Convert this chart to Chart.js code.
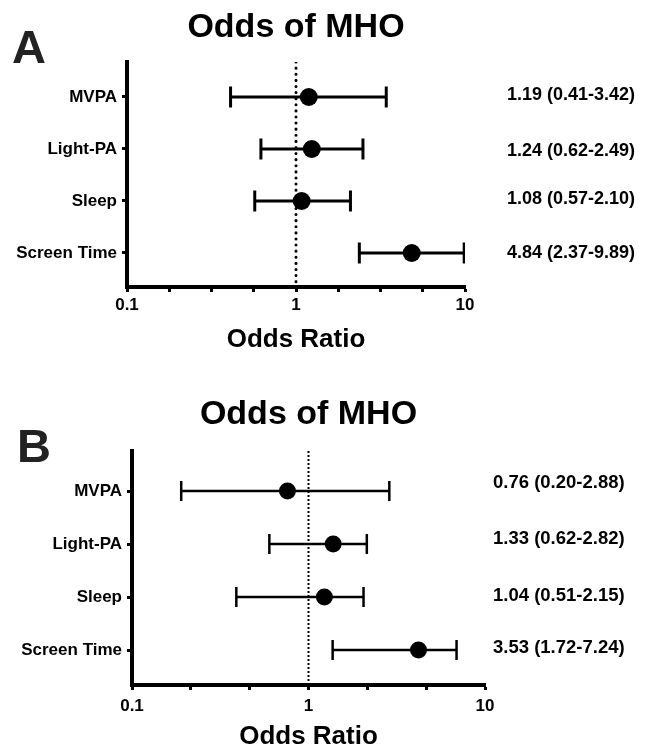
<!DOCTYPE html>
<html>
<head>
<meta charset="utf-8">
<script src="https://cdn.jsdelivr.net/npm/chart.js@4.4.0/dist/chart.umd.min.js"></script>
<style>
  html, body { margin: 0; padding: 0; background: #fff; overflow: hidden; }
  #wrapA { position: absolute; left: 0; top: 0; width: 646px; height: 370px; }
  #wrapB { position: absolute; left: 0; top: 370px; width: 646px; height: 400px; }
</style>
</head>
<body>
<div id="wrapA"><canvas id="chartA"></canvas></div>
<div id="wrapB"><canvas id="chartB"></canvas></div>
<script>
const categories = ['MVPA', 'Light-PA', 'Sleep', 'Screen Time'];

// Panel A
const oddsA = [1.19, 1.24, 1.08, 4.84];
const lowerA = [0.41, 0.62, 0.57, 2.37];
const upperA = [3.42, 2.49, 2.10, 9.89];
const textA = ['1.19 (0.41-3.42)', '1.24 (0.62-2.49)', '1.08 (0.57-2.10)', '4.84 (2.37-9.89)'];

// Panel B (marks, text as printed)
const oddsB = [0.76, 1.38, 1.23, 4.2];
const lowerB = [0.19, 0.60, 0.39, 1.37];
const upperB = [2.87, 2.14, 2.05, 6.9];
const textB = ['0.76 (0.20-2.88)', '1.33 (0.62-2.82)', '1.04 (0.51-2.15)', '3.53 (1.72-7.24)'];

const xTicksA = [0.1, 0.178, 0.316, 0.562, 1, 1.78, 3.16, 5.62, 10];
const xTicksB = [0.1, 0.215, 0.464, 1, 2.15, 4.64, 10];
const xLabels = [0.1, 1, 10];

const FONT = '"Liberation Sans", Arial, sans-serif';
Chart.defaults.font.family = FONT;
Chart.defaults.font.weight = 'bold';
Chart.defaults.color = '#000';

// titles, panel letter and the OR (CI) column
const panelText = {
  id: 'panelText',
  afterDraw(chart, args, o) {
    const {ctx, chartArea} = chart;
    const y = chart.scales.y;
    ctx.save();
    ctx.fillStyle = '#000';
    ctx.textBaseline = 'alphabetic';
    ctx.textAlign = 'center';
    ctx.font = 'bold 34px ' + FONT;
    ctx.fillText('Odds of MHO', (chartArea.left + chartArea.right) / 2, o.titleY);
    ctx.textAlign = 'left';
    ctx.fillStyle = '#222';
    ctx.font = 'bold 47px ' + FONT;
    ctx.fillText(o.letter, o.letterX, o.letterY);
    ctx.fillStyle = '#000';
    ctx.font = 'bold ' + o.valueSize + 'px ' + FONT;
    ctx.textBaseline = 'middle';
    o.values.forEach((t, i) => {
      ctx.fillText(t, o.valueX, y.getPixelForValue(i + 1) + o.valueShift[i]);
    });
    ctx.restore();
  }
};

function makeChart(id, p) {
  const datasets = [];
  datasets.push({
    type: 'scatter',
    data: p.odds.map((v, i) => ({x: v, y: i + 1})),
    pointRadius: p.dotR,
    backgroundColor: '#000',
    borderWidth: 0,
    order: 0
  });
  p.lower.forEach((lo, i) => {
    datasets.push({
      type: 'line',
      data: [{x: lo, y: i + 1}, {x: p.upper[i], y: i + 1}],
      borderColor: '#000',
      borderWidth: p.barW,
      pointStyle: 'line',
      pointRadius: p.capR,
      pointBorderColor: '#000',
      pointBorderWidth: p.barW,
      pointRotation: 90,
      order: 1
    });
  });
  // reference line at OR = 1
  datasets.push({
    type: 'line',
    data: [{x: 1, y: p.yMin}, {x: 1, y: p.yMax}],
    borderColor: '#000',
    borderWidth: p.refW,
    borderDash: p.refDash,
    borderCapStyle: p.refCap,
    pointRadius: 0,
    order: 2
  });

  return new Chart(document.getElementById(id), {
    type: 'scatter',
    data: {datasets},
    plugins: [panelText],
    options: {
      responsive: true,
      maintainAspectRatio: false,
      animation: false,
      events: [],
      layout: {padding: {top: p.top, right: p.right, left: 0, bottom: 0}},
      plugins: {
        legend: {display: false},
        tooltip: {enabled: false},
        panelText: p.text
      },
      scales: {
        x: {
          type: 'logarithmic',
          min: 0.1,
          max: 10,
          afterBuildTicks: s => { s.ticks = p.xTicks.map(v => ({value: v})); },
          afterFit: s => { s.height = p.xHeight; },
          ticks: {
            autoSkip: false,
            maxRotation: 0,
            padding: p.xPad,
            font: {size: 17, weight: 'bold', lineHeight: 1},
            callback: v => xLabels.includes(v) ? String(v) : ''
          },
          grid: {drawOnChartArea: false, tickLength: 5, tickWidth: 3, tickColor: '#000'},
          border: {display: true, width: 4, color: '#000'},
          title: {
            display: true,
            text: 'Odds Ratio',
            font: {size: 26, weight: 'bold', lineHeight: 1},
            padding: {top: 0, bottom: p.titlePad}
          }
        },
        y: {
          type: 'linear',
          reverse: true,
          min: p.yMin,
          max: p.yMax,
          afterBuildTicks: s => { s.ticks = categories.map((c, i) => ({value: i + 1})); },
          afterFit: s => { s.width = p.yWidth; },
          ticks: {
            autoSkip: false,
            padding: 5,
            font: {size: 17, weight: 'bold'},
            callback: v => categories[v - 1]
          },
          grid: {drawOnChartArea: false, tickLength: 5, tickWidth: 3, tickColor: '#000'},
          border: {display: true, width: 4, color: '#000'}
        }
      }
    }
  });
}

makeChart('chartA', {
  odds: oddsA, lower: lowerA, upper: upperA, xTicks: xTicksA,
  yMin: 0.327, yMax: 4.654, top: 62, right: 181, yWidth: 127, xHeight: 83,
  xPad: 5, titlePad: 17, dotR: 9, capR: 10.5, barW: 3,
  refW: 3, refDash: [0.1, 6], refCap: 'round',
  text: {letter: 'A', letterX: 12, letterY: 63, titleY: 37,
         values: textA, valueX: 507, valueSize: 18, valueShift: [-2, 2, -2, 0]}
});

makeChart('chartB', {
  odds: oddsB, lower: lowerB, upper: upperB, xTicks: xTicksB,
  yMin: 0.245, yMax: 4.66, top: 81, right: 161, yWidth: 132, xHeight: 85,
  xPad: 8, titlePad: 20, dotR: 8.5, capR: 10, barW: 2.5,
  refW: 2, refDash: [2, 2], refCap: 'butt',
  text: {letter: 'B', letterX: 17, letterY: 92, titleY: 54,
         values: textB, valueX: 493, valueSize: 18.5, valueShift: [-8, -5, -1, -2]}
});
</script>
</body>
</html>
